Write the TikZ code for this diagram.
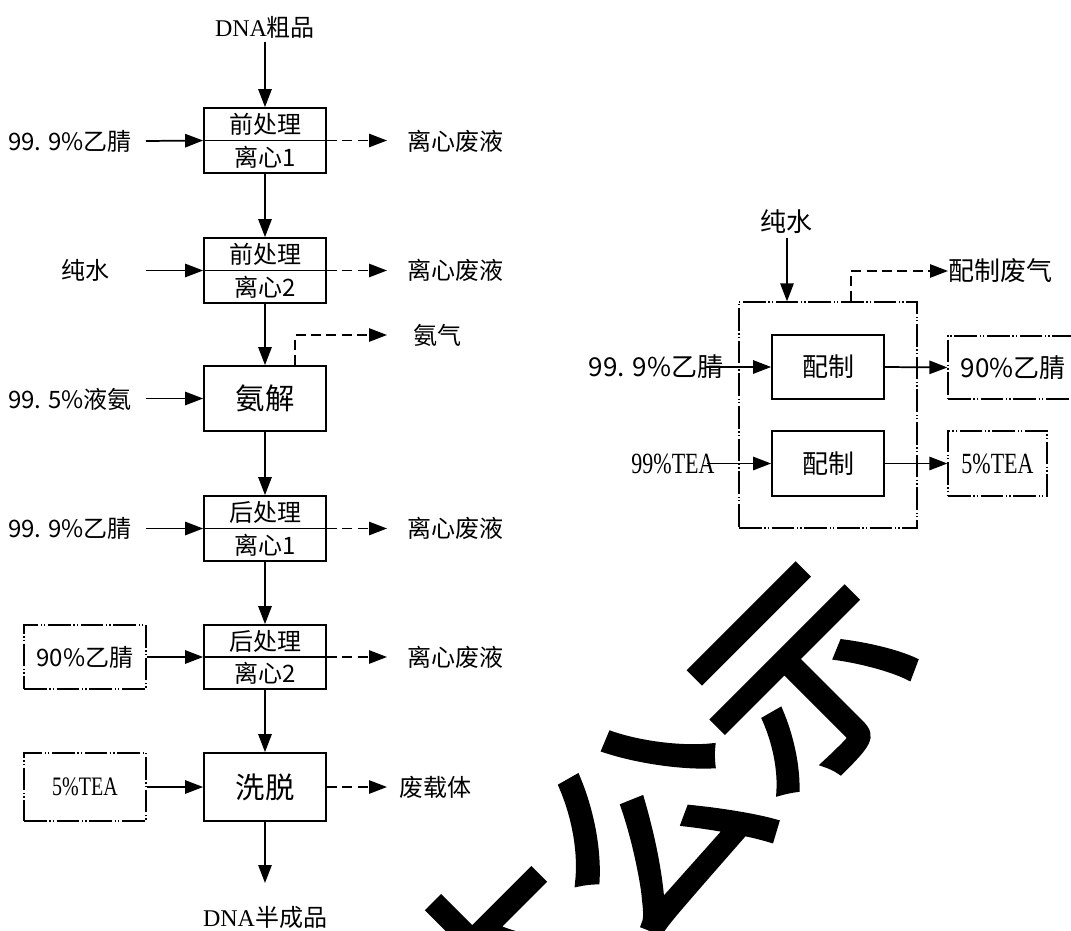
\documentclass[tikz,border=0pt]{standalone}
\usepackage{fontspec}
\setmainfont{Noto Sans CJK SC}
\newfontfamily\wmfont{Noto Sans CJK SC}[FakeBold=3]
\newfontfamily\ser{Liberation Serif}
\newfontfamily\sern{Liberation Serif}[FakeStretch=0.75]
\usetikzlibrary{arrows.meta}
\begin{document}
\begin{tikzpicture}[x=0.75pt,y=-0.75pt,
  every node/.style={font=\fontsize{18}{20}\selectfont, inner sep=0pt},
  proc/.style={draw, line width=1.3pt, minimum width=91.5pt, minimum height=48.75pt},
  ddbox/.style={draw, line width=0.9pt, dash pattern=on 17pt off 2pt on 1pt off 1.5pt on 1pt off 2pt},
  flow/.style={line width=1.3pt, -{Triangle[length=13.5pt,width=10pt]}},
  waste/.style={flow, dash pattern=on 7.5pt off 4pt},
  bigtxt/.style={font=\fontsize{22}{24}\selectfont},
  rtxt/.style={font=\fontsize{19.5}{22}\selectfont},
  serl/.style={font=\fontsize{20}{22}\selectfont\sern},
  serr/.style={font=\fontsize{22}{24}\selectfont\sern}
]
\useasboundingbox (0,0) rectangle (1071,931);

% ---------- left process chain ----------
\node (dna) at (265,27) {{\ser DNA}粗品};
\coordinate (dnaS) at (265,42);

\node[proc] (p1) at (265,140.5) {};
\draw[line width=1.3pt] (p1.west) -- (p1.east);
\node (p1t) at (265,124.5) {前处理};
\node (p1b) at (265,157) {离心1};

\node[proc] (p2) at (265,270.5) {};
\draw[line width=1.3pt] (p2.west) -- (p2.east);
\node (p2t) at (265,254.5) {前处理};
\node (p2b) at (265,287) {离心2};

\node[proc, bigtxt] (am) at (265,398.5) {氨解};

\node[proc] (h1) at (265,528.5) {};
\draw[line width=1.3pt] (h1.west) -- (h1.east);
\node (h1t) at (265,512.5) {后处理};
\node (h1b) at (265,545) {离心1};

\node[proc, minimum height=48pt] (h2) at (265,657) {};
\draw[line width=1.3pt] (h2.west) -- (h2.east);
\node (h2t) at (265,641) {后处理};
\node (h2b) at (265,673.5) {离心2};

\node[proc, bigtxt, minimum height=51pt] (el) at (265,787) {洗脱};
\coordinate (elTip) at (265,883);
\node (prod) at (265,917) {{\ser DNA}半成品};

\draw[flow] (dnaS) -- (p1.north);
\draw[flow] (p1.south) -- (p2.north);
\draw[flow] (p2.south) -- (am.north);
\draw[flow] (am.south) -- (h1.north);
\draw[flow] (h1.south) -- (h2.north);
\draw[flow] (h2.south) -- (el.north);
\draw[flow] (el.south) -- (elTip);

% ---------- left inputs ----------
\node (in1) at (70,141) {99. 9\%乙腈};
\coordinate (s1) at (146,141);
\draw[flow] (s1) -- (p1.west);
\node (in2) at (85,270) {纯水};
\coordinate (s2) at (146,270.5);
\draw[flow] (s2) -- (p2.west);
\node (in3) at (70,399) {99. 5\%液氨};
\coordinate (s3) at (146,398.5);
\draw[flow] (s3) -- (am.west);
\node (in4) at (70,528) {99. 9\%乙腈};
\coordinate (s4) at (146,528.5);
\draw[flow] (s4) -- (h1.west);
\node[ddbox, minimum width=91.5pt, minimum height=48pt] (in5) at (85,657) {90\%乙腈};
\draw[flow] (in5.east) -- (h2.west);
\node[ddbox, serl, minimum width=91.5pt, minimum height=51pt] (in6) at (85,787) {5\%TEA};
\draw[flow] (in6.east) -- (el.west);

% ---------- left outputs ----------
\coordinate (o1) at (387,140.5);
\draw[waste] (p1.east) -- (o1);
\node (w1) at (455,141) {离心废液};
\coordinate (o2) at (387,270.5);
\draw[waste] (p2.east) -- (o2);
\node (w2) at (455,270) {离心废液};
\coordinate (nh3) at (387,335);
\coordinate (amup) at (295,335);
\draw[waste] (am.north -| amup) |- (nh3);
\node (w3) at (437,335) {氨气};
\coordinate (o4) at (387,528.5);
\draw[waste] (h1.east) -- (o4);
\node (w4) at (455,528) {离心废液};
\coordinate (o5) at (387,657);
\draw[waste] (h2.east) -- (o5);
\node (w5) at (455,657) {离心废液};
\coordinate (o6) at (387,787);
\draw[waste] (el.east) -- (o6);
\node (w6) at (435,787) {废载体};

% ---------- right preparation unit ----------
\node[rtxt] (water2) at (786,222) {纯水};
\node[ddbox, minimum width=133.5pt, minimum height=169.5pt] (bigbox) at (828,415) {};
\coordinate (wS) at (787,238);
\draw[flow] (wS) -- (wS |- bigbox.north);
\coordinate (gasTip) at (948,271);
\coordinate (gasUp) at (851,271);
\draw[waste] (bigbox.north -| gasUp) |- (gasTip);
\node[rtxt, anchor=west] (gas) at (948,271) {配制废气};

\node[proc, rtxt, minimum width=84pt, minimum height=48pt] (pz1) at (828,367) {配制};
\node[proc, rtxt, minimum width=84pt, minimum height=48.75pt] (pz2) at (828,463.5) {配制};

\node[rtxt] (in7) at (656,367) {99. 9\%乙腈};
\coordinate (s7) at (705,367);
\draw[flow] (s7) -- (pz1.west);
\node[serr] (in8) at (673,463.5) {99\%TEA};
\coordinate (s8) at (707,463.5);
\draw[flow] (s8) -- (pz2.west);

\begin{scope}
\clip (0,0) rectangle (1071,931);
\node[ddbox, rtxt, minimum width=97.5pt, minimum height=47.25pt] (r1) at (1013,367.5) {90\%乙腈};
\end{scope}
\node[ddbox, serr, minimum width=74.25pt, minimum height=48.75pt] (r2) at (997.5,463.5) {5\%TEA};
\draw[flow] (pz1.east) -- (r1.west);
\draw[flow] (pz2.east) -- (r2.west);

% ---------- watermark ----------
\begin{scope}
\clip (0,0) rectangle (1071,931);
\node[rotate=45, font=\fontsize{157.5}{160}\selectfont\wmfont] (wm) at (652,824) {本公示};
\end{scope}
\end{tikzpicture}
\end{document}
